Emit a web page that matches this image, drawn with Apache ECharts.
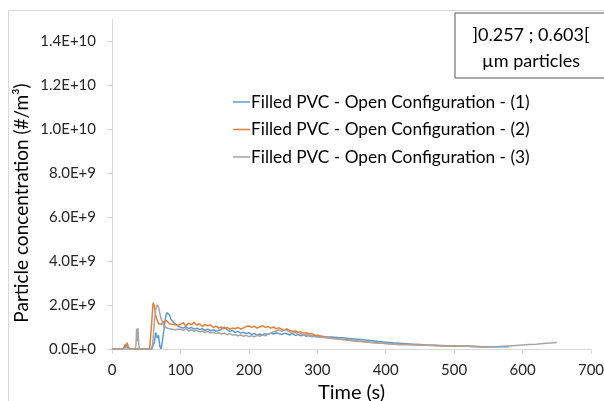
<!DOCTYPE html>
<html>
<head>
<meta charset="utf-8">
<script src="https://cdn.jsdelivr.net/npm/echarts@6/dist/echarts.min.js"></script>
<style>
  html, body { margin: 0; padding: 0; background: #fff; }
  #chart { width: 604px; height: 401px; }
</style>
</head>
<body>
<div id="chart"></div>
<script>
// time (s)
var times = [0, 10, 16, 18, 20, 22, 24, 26, 30, 34, 35, 36, 37, 38, 39, 40, 45, 50, 55,
  56, 58, 60, 62, 64, 66, 68, 70, 72, 74, 76, 78, 80, 82, 84, 86, 88, 90, 92, 94, 96, 98,
  100, 104, 108, 112, 116, 120, 124, 128, 132, 136, 140, 144, 148, 152, 156, 160, 164, 168, 172, 176,
  180, 184, 188, 192, 196, 200, 204, 208, 212, 216, 220, 224, 228, 232, 236, 240, 244, 248, 252, 256,
  260, 264, 268, 272, 276, 280, 284, 288, 292, 296,
  300, 310, 320, 330, 340, 350, 360, 370, 380, 390, 400, 410, 420, 430, 440, 450, 460, 470, 480, 490,
  500, 510, 520, 530, 540, 550, 560, 570, 580, 590, 600, 610, 620, 630, 640, 650];

// concentrations, in 1E+9 #/m3
var run1 = [0, 0, 0, 0.05, 0.22, 0.1, 0.02, 0, 0, 0, 0, 0, 0, 0, 0, 0, 0, 0, 0,
  0, 0, 0, 0.3, 0.75, 0.5, 0.62, 0.12, 0, 0.05, 0.9, 1.4, 1.65, 1.72, 1.55, 1.35, 1.28, 1.2, 1.15, 1.12, 1.05, 1.02,
  1.0, 0.95, 1.02, 0.92, 0.98, 0.9, 0.95, 0.88, 0.92, 0.85, 0.9, 0.82, 0.88, 0.8, 0.84, 0.9, 1.0, 0.88, 0.8, 0.84,
  0.76, 0.8, 0.72, 0.76, 0.7, 0.74, 0.66, 0.7, 0.62, 0.68, 0.64, 0.7, 0.66, 0.72, 0.68, 0.74, 0.7, 0.66, 0.72, 0.68,
  0.64, 0.7, 0.62, 0.66, 0.6, 0.64, 0.58, 0.62, 0.56, 0.6,
  0.58, 0.56, 0.55, 0.52, 0.5, 0.47, 0.44, 0.41, 0.38, 0.34, 0.31, 0.28, 0.26, 0.24, 0.22, 0.2, 0.18, 0.17, 0.16, 0.15,
  0.14, 0.13, 0.12, 0.11, 0.1, 0.1, 0.09, 0.1, 0.1, null, null, null, null, null, null, null];

var run2 = [0, 0, 0, 0.02, 0.1, 0.28, 0.1, 0, 0, 0, 0, 0, 0, 0, 0, 0, 0, 0, 0,
  0, 1.2, 2.1, 1.95, 1.5, 1.3, 1.15, 1.2, 1.12, 1.18, 1.25, 1.2, 1.28, 1.22, 1.15, 1.2, 1.12, 1.18, 1.1, 1.15, 1.08, 1.12,
  1.12, 1.2, 1.05, 1.18, 1.1, 1.22, 1.08, 1.15, 1.02, 1.12, 1.05, 1.1, 0.98, 1.04, 0.95, 1.0, 0.92, 0.98, 0.9, 0.95,
  0.92, 0.98, 0.9, 0.96, 1.02, 1.05, 0.98, 1.04, 0.95, 1.0, 1.06, 0.98, 1.03, 0.95, 1.0, 0.92, 0.96, 0.9, 0.86, 0.92,
  0.84, 0.8, 0.82, 0.76, 0.78, 0.72, 0.74, 0.68, 0.7, 0.64,
  0.62, 0.56, 0.5, 0.46, 0.43, 0.4, 0.36, 0.33, 0.3, 0.27, 0.25, 0.23, 0.21, 0.2, 0.19, 0.18, 0.17, 0.16, 0.15, 0.14,
  0.14, 0.13, 0.12, 0.11, 0.1, 0.1, null, null, null, null, null, null, null, null, null, null];

var run3 = [0, 0, 0, 0, 0, 0, 0, 0, 0, 0, 0.15, 0.92, 0.35, 0.95, 0.25, 0, 0, 0, 0,
  0, 0, 0.4, 1.3, 1.8, 2.0, 1.9, 1.6, 1.35, 1.2, 1.05, 1.0, 0.95, 1.0, 0.92, 0.96, 0.9, 0.94, 0.88, 0.92, 0.9, 0.86,
  0.9, 0.85, 0.92, 0.82, 0.88, 0.8, 0.85, 0.78, 0.82, 0.75, 0.8, 0.72, 0.76, 0.7, 0.74, 0.68, 0.72, 0.65, 0.7, 0.63,
  0.66, 0.6, 0.64, 0.58, 0.62, 0.56, 0.6, 0.55, 0.62, 0.58, 0.64, 0.6, 0.68, 0.72, 0.78, 0.82, 0.86, 0.8, 0.88, 0.84,
  0.78, 0.72, 0.76, 0.66, 0.7, 0.62, 0.66, 0.58, 0.62, 0.56,
  0.55, 0.52, 0.48, 0.45, 0.42, 0.38, 0.35, 0.32, 0.29, 0.27, 0.25, 0.23, 0.21, 0.2, 0.19, 0.18, 0.17, 0.16, 0.15, 0.14,
  0.14, 0.13, 0.12, 0.11, 0.1, 0.09, 0.1, 0.12, 0.14, 0.16, 0.18, 0.2, 0.22, 0.25, 0.27, 0.3];

var seriesNames = ['Filled PVC - Open Configuration - (1)',
  'Filled PVC - Open Configuration - (2)',
  'Filled PVC - Open Configuration - (3)'];
var colors = ['#5B9BD5', '#ED7D31', '#A5A5A5'];
var yTicks = [0, 2e9, 4e9, 6e9, 8e9, 1e10, 1.2e10, 1.4e10];

var FONT = 'Lato';

function toPairs(vals) {
  var out = [];
  for (var i = 0; i < times.length; i++) {
    out.push([times[i], vals[i] == null ? null : vals[i] * 1e9]);
  }
  return out;
}

// Excel style 0.0E+0
function sci(v) {
  if (v === 0) return '0.0E+0';
  var e = Math.floor(Math.log10(v) + 1e-9);
  var m = v / Math.pow(10, e);
  return m.toFixed(1) + 'E+' + e;
}

var chart = echarts.init(document.getElementById('chart'), null, { renderer: 'canvas' });

var series = [run1, run2, run3].map(function (vals, i) {
  return {
    name: seriesNames[i],
    type: 'line',
    data: toPairs(vals),
    symbol: 'none',
    connectNulls: false,
    lineStyle: { color: colors[i], width: 1.5 },
    itemStyle: { color: colors[i] },
    z: 2 + i
  };
});

var option = {
  animation: false,
  textStyle: { fontFamily: FONT },
  grid: { left: 112, right: 13, top: 19, bottom: 52, outerBoundsMode: 'none', containLabel: false },
  legend: {
    orient: 'vertical',
    left: 228,
    top: 87,
    icon: 'rect',
    itemWidth: 17,
    itemHeight: 1.5,
    itemGap: 7.5,
    data: seriesNames,
    textStyle: { fontFamily: FONT, fontSize: 17.3, color: '#000', lineHeight: 20, padding: [0, 0, 0, -4] }
  },
  xAxis: {
    type: 'value',
    min: 0,
    max: 700,
    interval: 100,
    name: 'Time (s)',
    nameLocation: 'middle',
    nameGap: 25,
    nameTextStyle: { fontFamily: FONT, fontSize: 20, color: '#000' },
    axisLine: { lineStyle: { color: '#d9d9d9', width: 1 } },
    axisTick: { show: true, length: 5, lineStyle: { color: '#d9d9d9' } },
    axisLabel: { fontFamily: FONT, fontSize: 15, color: '#262626', margin: 14 },
    splitLine: { show: false }
  },
  yAxis: {
    type: 'value',
    min: 0,
    max: 1.5e10,
    interval: 2e9,
    axisLine: { show: true, lineStyle: { color: '#d9d9d9', width: 1 } },
    axisTick: { show: true, length: 5, lineStyle: { color: '#d9d9d9' }, customValues: yTicks },
    axisLabel: {
      fontFamily: FONT, fontSize: 15, color: '#262626', margin: 16,
      showMaxLabel: false,
      formatter: function (v) { return yTicks.indexOf(v) >= 0 ? sci(v) : ''; }
    },
    splitLine: { show: false }
  },
  graphic: [
    {
      type: 'rect', left: 6, top: 8, z: -10, silent: true,
      shape: { width: 610, height: 410 },
      style: { fill: 'none', stroke: '#d9d9d9', lineWidth: 1 }
    },
    {
      type: 'text', x: 22, y: 203, rotation: Math.PI / 2,
      style: {
        text: 'Particle concentration (#/m³)',
        font: '19px ' + FONT, fill: '#000',
        align: 'center', verticalAlign: 'middle'
      }
    },
    {
      type: 'rect', x: 455, y: 13, z: 10,
      shape: { width: 152, height: 65 },
      style: { fill: '#fff', stroke: '#595959', lineWidth: 1 }
    },
    {
      type: 'text', x: 531, y: 35, z: 11,
      style: { text: ']0.257 ; 0.603[', font: '18px ' + FONT, fill: '#000', align: 'center', verticalAlign: 'middle' }
    },
    {
      type: 'text', x: 531, y: 61, z: 11,
      style: { text: 'µm particles', font: '18px ' + FONT, fill: '#000', align: 'center', verticalAlign: 'middle' }
    }
  ],
  series: series
};

chart.setOption(option);
</script>
</body>
</html>
